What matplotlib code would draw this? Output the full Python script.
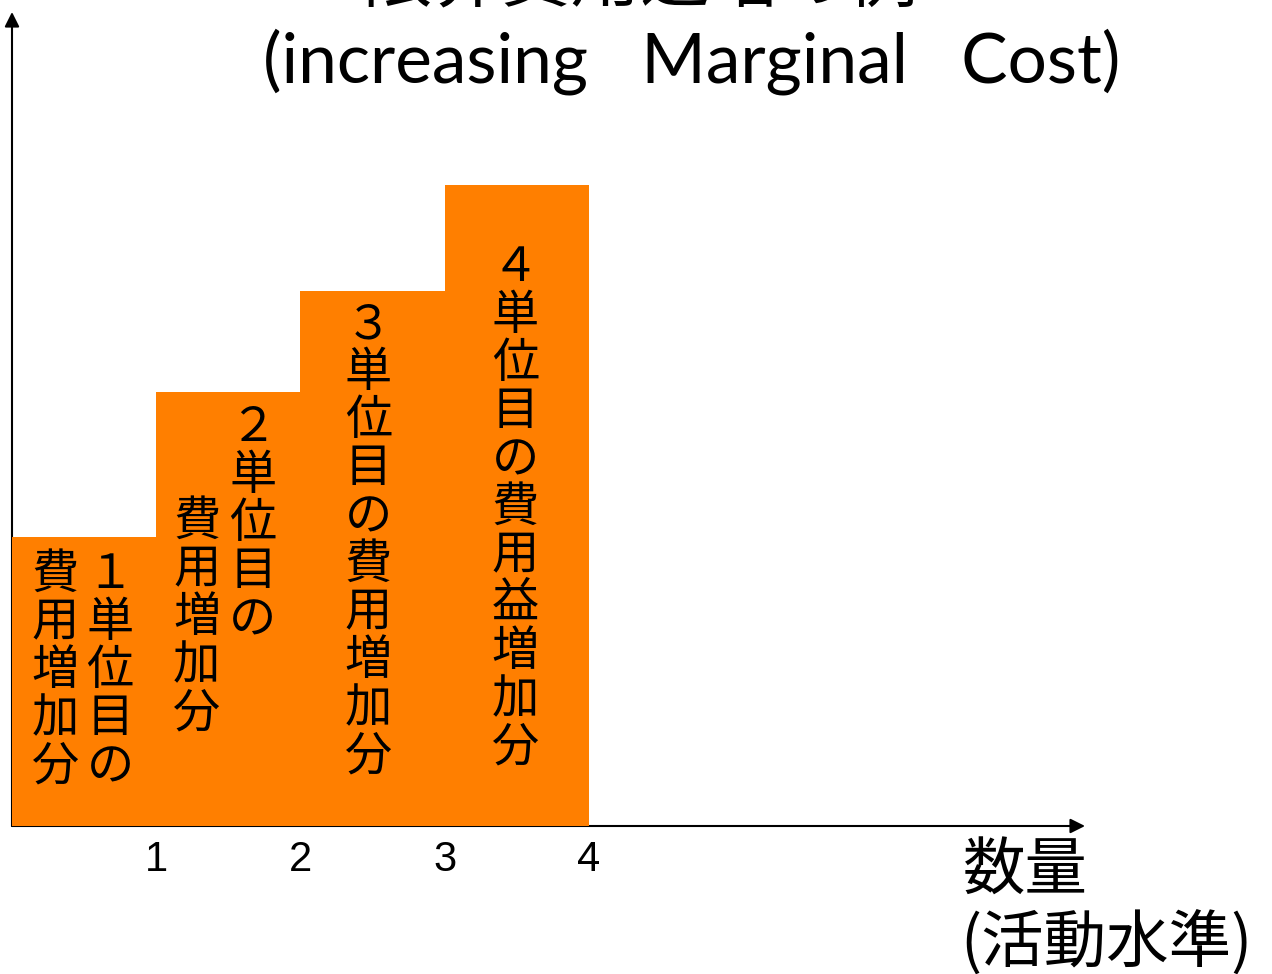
import matplotlib
matplotlib.use("Agg")
import matplotlib.pyplot as plt

# ---- data ----
units = [1, 2, 3, 4]
tick_labels = ["1", "2", "3", "4"]
marginal_cost = [2.89, 4.34, 5.35, 6.41]
bar_color = "#FF7F00"

title_line1 = "限界費用逓増の例"
title_line2 = "(increasing   Marginal   Cost)"
xlabel_line1 = "数量"
xlabel_line2 = "(活動水準)"

# vertical text columns: (x in data units, top char centre y, text)
columns = [
    (0.68, 2.51, "１単位目の"),
    (0.30, 2.51, "費用増加分"),
    (1.67, 3.98, "２単位目の"),
    (1.28, 3.04, "費用増加分"),
    (2.47, 5.01, "３単位目の費用増加分"),
    (3.49, 5.58, "４単位目の費用益増加分"),
]
char_step = 0.48

W, H = 1272, 974
fig = plt.figure(figsize=(W / 100, H / 100), dpi=100)
x0, x1 = 12, 1085
ybase, ytop = 826, 12
ax = fig.add_axes([x0 / W, (H - ybase) / H, (x1 - x0) / W, (ybase - ytop) / H])
unit_px = 144.25
ax.set_xlim(0, (x1 - x0) / unit_px)
ax.set_ylim(0, (ybase - ytop) / 100)
for s in ax.spines.values():
    s.set_visible(False)
ax.set_yticks([])

ax.bar([u - 1 for u in units], marginal_cost, width=1.0, align="edge",
       color=bar_color, edgecolor="none", zorder=2)

# axes arrows
ax.annotate("", xy=(ax.get_xlim()[1], 0), xytext=(0, 0),
            arrowprops=dict(arrowstyle="-|>", color="black", lw=1.5,
                            mutation_scale=22, shrinkA=0, shrinkB=0),
            zorder=1, annotation_clip=False)
ax.annotate("", xy=(0, ax.get_ylim()[1]), xytext=(0, 0),
            arrowprops=dict(arrowstyle="-|>", color="black", lw=1.5,
                            mutation_scale=22, shrinkA=0, shrinkB=0),
            zorder=1, annotation_clip=False)

ax.set_xticks(units)
ax.set_xticklabels(tick_labels, fontsize=30, family="Liberation Sans")
ax.tick_params(axis="x", length=0, pad=10)

cjk = ["Noto Sans CJK JP", "DejaVu Sans"]
for cx, cy, txt in columns:
    for i, ch in enumerate(txt):
        ax.text(cx, cy - i * char_step, ch, ha="center", va="center",
                fontsize=34, family=cjk, zorder=3)

fig.text(640 / W, 1 - 1 / H, title_line1, ha="center", va="baseline",
         fontsize=50, family=cjk)
fig.text(692 / W, 1 - 62 / H, title_line2, ha="center", va="center",
         fontsize=50, family=["Lato", "DejaVu Sans"])
fig.text(963 / W, 1 - 872 / H, xlabel_line1, ha="left", va="center",
         fontsize=45, family=cjk)
fig.text(960 / W, 1 - 943 / H, xlabel_line2, ha="left", va="center",
         fontsize=45, family=cjk)

fig.savefig("out.png", dpi=100)
